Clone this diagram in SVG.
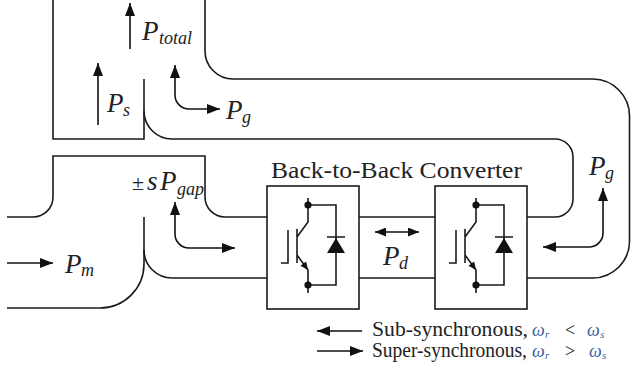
<svg xmlns="http://www.w3.org/2000/svg" width="631" height="372" viewBox="0 0 631 372">
<style>
.ln{fill:none;stroke:#1a1a1a;stroke-width:1.6}
.ar{fill:none;stroke:#111;stroke-width:1.6}
.bx{fill:#fff;stroke:#1a1a1a;stroke-width:1.6}
.m{font-family:"Liberation Serif","DejaVu Serif",serif;font-style:italic;font-size:27px;fill:#222}
.sb{font-size:18px}
.rm{font-family:"Liberation Serif","DejaVu Serif",serif;font-style:normal;fill:#222}
.w{font-family:"Liberation Serif","DejaVu Serif",serif;font-style:italic;font-size:18px;fill:#4060a0}
.ws{font-size:11px}
.blk{fill:#111}
</style>
<defs>
<marker id="ah" markerUnits="userSpaceOnUse" markerWidth="13" markerHeight="10" refX="13" refY="5" orient="auto-start-reverse"><path d="M0,0 L13,5 L0,10 z" fill="#111"/></marker>
<marker id="as" markerUnits="userSpaceOnUse" markerWidth="11" markerHeight="9" refX="11" refY="4.5" orient="auto-start-reverse"><path d="M0,0 L11,4.5 L0,9 z" fill="#111"/></marker>
<g id="sw">
<rect class="bx" x="267" y="186" width="92" height="123"/>
<path class="ln" d="M308,198 V222 L297,237 M297,255 L308,270 V293 M308,205 H336 V285 H308 M297,229 V263 M281,263 H288 V230 M327,237 H345"/>
<polygon class="blk" points="336,238 327,253 345,253"/>
<polygon class="blk" points="308,270 300.5,265.7 306.1,261.5"/>
<circle class="blk" cx="308" cy="205" r="3.6"/>
<circle class="blk" cx="308" cy="285" r="3.6"/>
</g>
</defs>
<rect width="631" height="372" fill="#fff"/>
<g id="connectors">
<path id="stator" class="ln" d="M53,0 V139 H144 V79"/>
<path id="rotor-upper" class="ln" d="M144,111 A28,28 0 0 0 172,139 H555 A18,18 0 0 1 573,157 V199 A18,18 0 0 1 555,217 H527"/>
<path id="grid-outer" class="ln" d="M205,0 V51 A28,28 0 0 0 233,79 H593 A37,37 0 0 1 629.5,116 V241 A37,37 0 0 1 593,278 H527"/>
<path id="gap-box" class="ln" d="M7,217 H33 A20,20 0 0 0 53,197 V156 H205 V197 A20,20 0 0 0 225,217 H267"/>
<path id="rotor-lower" class="ln" d="M144,217 V250 A28,28 0 0 0 172,278 H267"/>
<path id="shaft" class="ln" d="M7,308 H100 A44,44 0 0 0 144,264 V250"/>
<path id="dc-link" class="ln" d="M359,217 H435 M359,278 H435"/>
<path class="ar" d="M130,49 V3" marker-end="url(#ah)"/>
<path class="ar" d="M98,125 V63" marker-end="url(#ah)"/>
<path class="ar" d="M175,65 V95 A14,14 0 0 0 189,109 H220" marker-start="url(#ah)" marker-end="url(#ah)"/>
<path class="ar" d="M175,202 V234 A14,14 0 0 0 189,248 H235" marker-start="url(#ah)" marker-end="url(#ah)"/>
<path class="ar" d="M603,188 V233 A14,14 0 0 1 589,247 H543" marker-start="url(#ah)" marker-end="url(#ah)"/>
<path class="ar" d="M375,232 H419" marker-start="url(#as)" marker-end="url(#as)"/>
<path class="ar" d="M7,263 H53" marker-end="url(#ah)"/>
<path class="ar" d="M362,331 H317" marker-end="url(#ah)"/>
<path class="ar" d="M317,351 H363" marker-end="url(#ah)"/>
</g>
<g id="converter-rotor-side"><use href="#sw"/></g>
<g id="converter-grid-side"><use href="#sw" transform="translate(168,0)"/></g>
<g id="labels">
<text class="rm" x="271" y="178" font-size="23" textLength="251" lengthAdjust="spacingAndGlyphs">Back-to-Back Converter</text>
<text class="m" y="40"><tspan x="142">P</tspan><tspan class="sb" x="159" dy="4">total</tspan></text>
<text class="m" y="112"><tspan x="107">P</tspan><tspan class="sb" x="123" dy="4">s</tspan></text>
<text class="m" y="119"><tspan x="226">P</tspan><tspan class="sb" x="242" dy="4">g</tspan></text>
<text class="m" y="175"><tspan x="589">P</tspan><tspan class="sb" x="605" dy="4">g</tspan></text>
<text class="m" y="265"><tspan x="383">P</tspan><tspan class="sb" x="399" dy="4">d</tspan></text>
<text class="m" y="273"><tspan x="65">P</tspan><tspan class="sb" x="81" dy="3">m</tspan></text>
<text class="m" y="190"><tspan class="rm" x="132" font-size="22">±</tspan><tspan x="147">s</tspan><tspan x="160">P</tspan><tspan class="sb" x="177" dy="5">gap</tspan></text>
<text class="rm" x="372" y="336" font-size="20" textLength="156" lengthAdjust="spacingAndGlyphs">Sub-synchronous,</text>
<text class="rm" x="372" y="357" font-size="20" textLength="155" lengthAdjust="spacingAndGlyphs">Super-synchronous,</text>
<text class="w" y="336"><tspan x="532">ω</tspan><tspan class="ws" x="545" dy="2">r</tspan><tspan class="rm" x="565" dy="-2" fill="#4060a0">&lt;</tspan><tspan x="587">ω</tspan><tspan class="ws" x="600" dy="2">s</tspan></text>
<text class="w" y="357"><tspan x="532">ω</tspan><tspan class="ws" x="545" dy="2">r</tspan><tspan class="rm" x="565" dy="-2" fill="#4060a0">&gt;</tspan><tspan x="589">ω</tspan><tspan class="ws" x="602" dy="2">s</tspan></text>
</g>
</svg>
